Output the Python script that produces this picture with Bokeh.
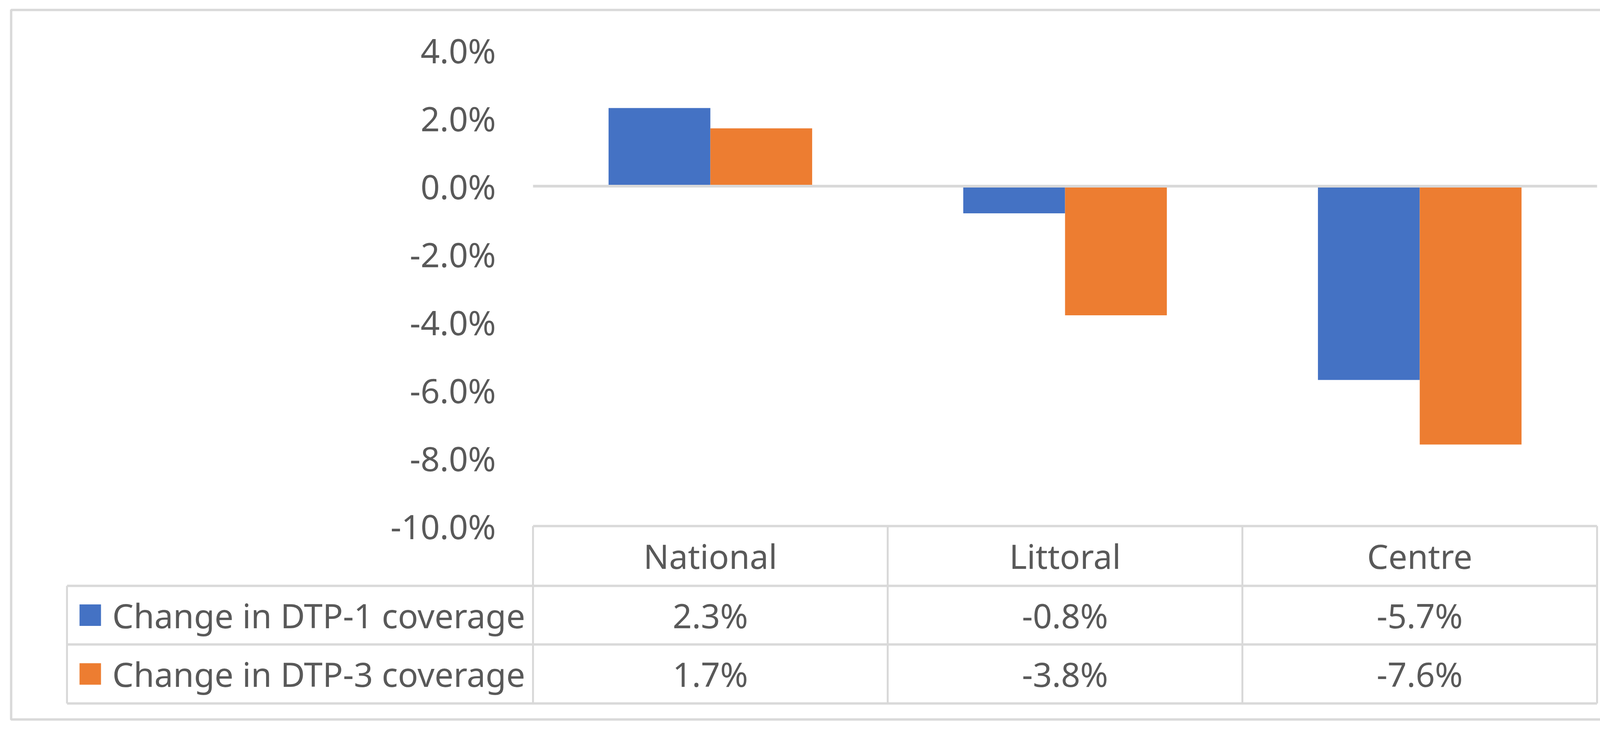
import numpy as np
from bokeh.plotting import figure
from bokeh.models import Range1d, ColumnDataSource
from bokeh.core.properties import value
from bokeh.embed import file_html
from bokeh.resources import INLINE

# ---- data ----
categories = ["National", "Littoral", "Centre"]
series_names = ["Change in DTP-1 coverage", "Change in DTP-3 coverage"]
dtp1 = [2.3, -0.8, -5.7]
dtp3 = [1.7, -3.8, -7.6]
y_ticks = [4.0, 2.0, 0.0, -2.0, -4.0, -6.0, -8.0, -10.0]
colors = ["#4472C4", "#ED7D31"]

TEXT = "#595959"
LINE = "#D9D9D9"
FONT = value("Noto Sans")
FS = "86px"

# ---- layout (data units: 1 category = 1 x unit, 1% = 1 y unit) ----
X0, X1 = -1.4714, 3.0991
Y0, Y1 = -15.690, 5.184
LEFT_COL = -1.3139
ROW_EDGES = [-10.0, -11.759, -13.483, -15.218]
BAR_W = 0.287

p = figure(width=4196, height=1846, output_backend="svg", toolbar_location=None,
           x_axis_location=None, y_axis_location=None, title=None,
           x_range=Range1d(X0, X1), y_range=Range1d(Y0, Y1),
           min_border_left=28, min_border_right=18, min_border_top=25, min_border_bottom=5)
p.outline_line_color = LINE
p.outline_line_width = 6
p.background_fill_color = "white"
p.border_fill_color = "white"
p.xgrid.visible = False
p.ygrid.visible = False

n = len(categories)
centers = np.arange(n) + 0.5
series = [dtp1, dtp3]
offsets = [-BAR_W / 2, BAR_W / 2]

for vals, off, col in zip(series, offsets, colors):
    src = ColumnDataSource(dict(x=centers + off, top=vals, bottom=[0] * n))
    p.vbar(x="x", top="top", bottom="bottom", width=BAR_W, source=src,
           fill_color=col, line_color=None)

# zero line
p.segment(x0=[0], y0=[0], x1=[n], y1=[0], line_color=LINE, line_width=7)

# y tick labels
p.text(x=[-0.1046] * len(y_ticks), y=y_ticks, text=[f"{t:.1f}%" for t in y_ticks],
       text_align="right", text_baseline="middle", text_font=FONT,
       text_font_size=FS, text_color=TEXT)

# ---- data table ----
hx0 = [0, LEFT_COL, LEFT_COL, LEFT_COL]
hx1 = [n, n, n, n]
p.segment(x0=hx0, y0=ROW_EDGES, x1=hx1, y1=ROW_EDGES, line_color=LINE, line_width=6)
vx = [LEFT_COL] + list(range(n + 1))
vy0 = [ROW_EDGES[1]] + [ROW_EDGES[0]] * (n + 1)
vy1 = [ROW_EDGES[3]] * (n + 2)
p.segment(x0=vx, y0=vy0, x1=vx, y1=vy1, line_color=LINE, line_width=5)

row_centers = [(ROW_EDGES[i] + ROW_EDGES[i + 1]) / 2 for i in range(3)]

p.text(x=centers, y=[row_centers[0]] * n, text=categories, text_align="center",
       text_baseline="middle", text_font=FONT, text_font_size=FS, text_color=TEXT)

for i, (vals, col, name) in enumerate(zip(series, colors, series_names)):
    yc = row_centers[i + 1]
    p.text(x=centers, y=[yc] * n, text=[f"{v:.1f}%" for v in vals], text_align="center",
           text_baseline="middle", text_font=FONT, text_font_size=FS, text_color=TEXT)
    p.scatter(x=[-1.2483], y=[yc], marker="square", size=55, fill_color=col, line_color=None)
    p.text(x=[-1.1861], y=[yc], text=[name], text_align="left", text_baseline="middle",
           text_font=FONT, text_font_size=FS, text_color=TEXT)

open("out.html", "w").write(file_html(p, INLINE))
